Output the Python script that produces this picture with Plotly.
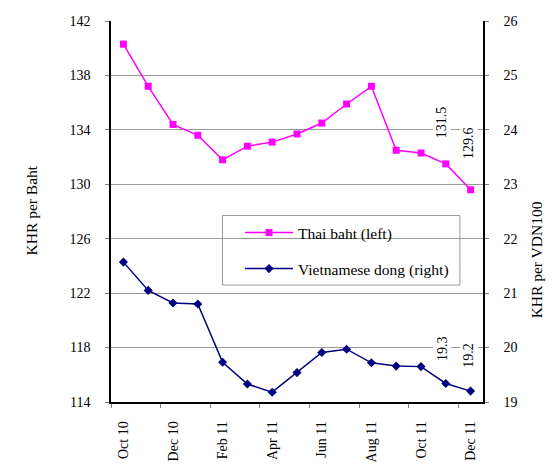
import plotly.graph_objects as go

months = ["Oct 10", "Nov 10", "Dec 10", "Jan 11", "Feb 11", "Mar 11", "Apr 11", "May 11",
          "Jun 11", "Jul 11", "Aug 11", "Sep 11", "Oct 11", "Nov 11", "Dec 11"]
thai_baht = [140.3, 137.2, 134.4, 133.6, 131.8, 132.8, 133.1, 133.7,
             134.5, 135.9, 137.2, 132.5, 132.3, 131.5, 129.6]
viet_dong = [21.57, 21.05, 20.82, 20.80, 19.73, 19.33, 19.18, 19.54,
             19.91, 19.97, 19.72, 19.66, 19.65, 19.34, 19.20]
left_ticks = [114, 118, 122, 126, 130, 134, 138, 142]
right_ticks = [19, 20, 21, 22, 23, 24, 25, 26]

FONT = "'Liberation Serif', 'Times New Roman', serif"
xs = list(range(len(months)))

fig = go.Figure()
fig.add_trace(go.Scatter(
    x=xs, y=thai_baht, name="Thai baht (left)", mode="lines+markers",
    line=dict(color="#FF00FF", width=1.5),
    marker=dict(symbol="square", size=7, color="#FF00FF"),
    legend="legend", yaxis="y"))
fig.add_trace(go.Scatter(
    x=xs, y=viet_dong, name="Vietnamese dong (right)", mode="lines+markers",
    line=dict(color="#000080", width=1.5),
    marker=dict(symbol="diamond", size=7, color="#000080"),
    legend="legend2", yaxis="y2"))

tick_font = dict(family=FONT, size=14, color="black")

fig.update_layout(
    width=550, height=458,
    margin=dict(l=103, r=75, t=13, b=64, autoexpand=False),
    paper_bgcolor="white", plot_bgcolor="white",
    font=dict(family=FONT, size=14, color="black"),
    xaxis=dict(
        range=[-0.5, len(months) - 0.5], automargin=False,
        tickvals=xs[::2], ticktext=months[::2],
        tickangle=-90, tickfont=tick_font, ticks="",
        ticklabelstandoff=12,
        showgrid=False, zeroline=False,
        showline=True, linecolor="black", linewidth=1.5,
        minor=dict(tickvals=[i - 0.5 for i in xs[::2]], ticks="outside",
                   ticklen=4, tickcolor="#808080", showgrid=False),
    ),
    yaxis=dict(
        range=[114, 142], tickvals=left_ticks, tickfont=tick_font, automargin=False,
        ticks="outside", ticklen=4, tickcolor="#808080",
        ticklabelstandoff=12,
        showgrid=True, gridcolor="#999999", gridwidth=1,
        zeroline=False, showline=True, linecolor="black", linewidth=1.5,
    ),
    yaxis2=dict(
        range=[19, 26], tickvals=right_ticks, tickfont=tick_font, automargin=False,
        overlaying="y", side="right",
        ticks="outside", ticklen=4, tickcolor="#808080",
        ticklabelstandoff=12,
        showgrid=False, zeroline=False,
        showline=True, linecolor="black", linewidth=1.5,
    ),
    legend=dict(x=0.3468, y=0.4436, xanchor="left", yanchor="middle",
                bgcolor="rgba(0,0,0,0)", borderwidth=0, itemwidth=48,
                font=dict(family=FONT, size=15.5)),
    legend2=dict(x=0.3468, y=0.349, xanchor="left", yanchor="middle",
                 bgcolor="rgba(0,0,0,0)", borderwidth=0, itemwidth=48,
                 font=dict(family=FONT, size=15.5)),
    shapes=[dict(type="rect", xref="paper", yref="paper",
                 x0=0.2997, x1=0.938, y0=0.307, y1=0.4895,
                 line=dict(color="#999999", width=1), fillcolor="white", layer="below")],
    showlegend=True,
)

annots = [
    dict(x=-0.242, y=0.504, xref="paper", yref="paper", text="KHR per Baht",
         textangle=-90, showarrow=False, font=dict(family=FONT, size=15.5)),
    dict(x=1.172, y=0.373, xref="paper", yref="paper", text="KHR per VDN100",
         textangle=-90, showarrow=False, font=dict(family=FONT, size=15.5)),
    dict(x=13, y=134.55, xref="x", yref="y", text=str(thai_baht[13]), textangle=-90,
         xshift=-4, showarrow=False, bgcolor="white", font=dict(family=FONT, size=14)),
    dict(x=14, y=133.0, xref="x", yref="y", text=str(thai_baht[14]), textangle=-90,
         xshift=-2, showarrow=False, bgcolor="white", font=dict(family=FONT, size=14)),
    dict(x=13, y=19.99, xref="x", yref="y2", text=f"{viet_dong[13]:.1f}", textangle=-90,
         xshift=-4, showarrow=False, bgcolor="white", font=dict(family=FONT, size=14)),
    dict(x=14, y=19.86, xref="x", yref="y2", text=f"{viet_dong[14]:.1f}", textangle=-90,
         xshift=-2, showarrow=False, bgcolor="white", font=dict(family=FONT, size=14)),
]
fig.update_layout(annotations=annots)

fig.write_html("out.html")
